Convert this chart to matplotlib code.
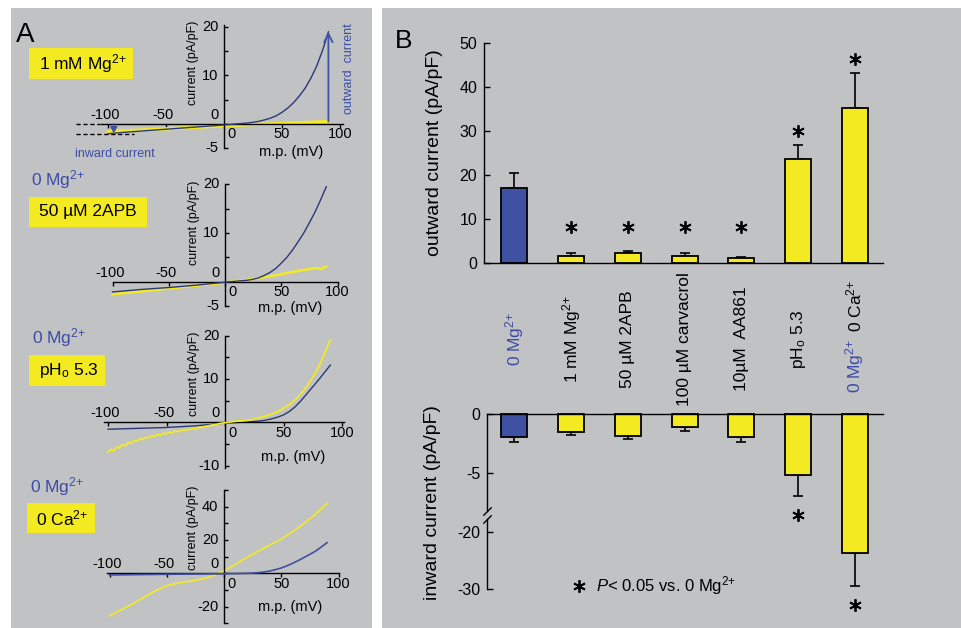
import numpy as np
import matplotlib
matplotlib.use("Agg")
import matplotlib.pyplot as plt
from matplotlib.patches import Rectangle
from matplotlib.lines import Line2D
from matplotlib import transforms

plt.rcParams["font.family"] = ["Liberation Sans", "DejaVu Sans"]
plt.rcParams["mathtext.fontset"] = "custom"
plt.rcParams["mathtext.rm"] = "Liberation Sans"
plt.rcParams["mathtext.it"] = "Liberation Sans:italic"
plt.rcParams["mathtext.default"] = "regular"
plt.rcParams["axes.linewidth"] = 1.0

# ---------------------------------------------------------------- data
# Panel A: I-V relations, membrane potential (mV) vs current density (pA/pF)
# 1 mM Mg2+ (yellow) against 0 Mg2+ control (blue)
mv_mg_ctrl = [-100, -95, -80, -60, -40, -20, 0, 10, 20, 25, 30, 35, 40, 45, 50,
              55, 60, 65, 70, 75, 80, 85, 90]
cur_mg_ctrl = [-2.0, -1.9, -1.6, -1.25, -0.9, -0.55, -0.2, 0.0, 0.2, 0.35, 0.55, 0.85, 1.2, 1.7, 2.4,
               3.3, 4.4, 5.8, 7.4, 9.5, 12.0, 15.2, 19.0]
mv_mg = [-100, -75, -50, -25, 0, 25, 50, 75, 90]
cur_mg = [-1.6, -1.3, -1.0, -0.7, -0.35, -0.1, 0.1, 0.35, 0.5]

# 50 uM 2APB
mv_apb_ctrl = [-100, -75, -50, -25, 0, 10, 20, 25, 30, 35, 40, 45, 50, 55, 60,
               65, 70, 75, 80, 85, 90]
cur_apb_ctrl = [-2.1, -1.6, -1.2, -0.7, -0.1, 0.1, 0.3, 0.5, 0.8, 1.3, 1.9, 2.7, 3.8, 5.0, 6.5,
                8.2, 10.0, 12.1, 14.3, 16.8, 19.5]
mv_apb = [-100, -75, -50, -25, 0, 20, 40, 60, 70, 80, 85, 90]
cur_apb = [-2.6, -2.0, -1.4, -0.8, -0.2, 0.4, 1.1, 2.0, 2.4, 2.8, 2.6, 3.1]

# pHo 5.3
mv_ph_ctrl = [-100, -75, -50, -25, 0, 20, 30, 35, 40, 45, 50, 55, 60, 65, 70,
              75, 80, 85, 90]
cur_ph_ctrl = [-1.6, -1.4, -1.2, -0.8, -0.2, 0.1, 0.3, 0.5, 0.8, 1.2, 1.7, 2.5, 3.6, 5.0, 6.6,
               8.2, 9.8, 11.5, 13.2]
mv_ph = [-100, -97.5, -95, -92.5, -90, -87.5, -85, -82.5, -80, -77.5,
         -75, -72.5, -70, -67.5, -65, -62.5, -60, -57.5, -55, -52.5,
         -50, -47.5, -45, -42.5, -40, -37.5, -35, -32.5, -30, -27.5,
         -25, -22.5, -20, -17.5, -15, -12.5, -10, -7.5, -5, -2.5,
         0, 5, 10, 15, 20, 25, 30, 35, 40, 45,
         50, 55, 60, 65, 70, 75, 80, 85, 90]
cur_ph = [-6.9, -6.3, -6.6, -5.7, -5.9, -5.2, -5.4, -4.6, -4.9, -4.2,
          -4.4, -3.8, -4.0, -3.4, -3.6, -3.1, -3.3, -2.8, -3.0, -2.5,
          -2.7, -2.3, -2.4, -2.0, -2.2, -1.8, -1.9, -1.6, -1.7, -1.4,
          -1.5, -1.2, -1.2, -1.0, -0.9, -0.7, -0.6, -0.5, -0.3, -0.2,
          -0.1, 0.1, 0.25, 0.35, 0.5, 0.75, 1.1, 1.45, 1.9, 2.5,
          3.2, 4.1, 5.2, 6.6, 8.3, 10.4, 12.8, 15.8, 19.0]

# 0 Ca2+
mv_ca_ctrl = [-100, -75, -50, -25, 0, 20, 25, 30, 35, 40, 45, 50, 55, 60, 65,
              70, 75, 80, 85, 90]
cur_ca_ctrl = [-1.0, -0.8, -0.6, -0.45, -0.3, 0.0, 0.15, 0.4, 0.8, 1.4, 2.2, 3.2, 4.5, 6.0, 7.7,
               9.5, 11.4, 13.3, 15.8, 18.4]
mv_ca = [-100, -90, -80, -70, -60, -50, -45, -40, -35, -30, -25, -20, -15, -10, -5,
         0, 5, 10, 20, 30, 40, 50, 60, 70, 80, 90]
cur_ca = [-25.5, -22.0, -18.5, -14.5, -10.5, -7.5, -6.6, -5.8, -5.3, -4.8, -4.3, -3.6, -2.7, -1.5, 0.0,
          1.5, 3.5, 5.5, 9.5, 13.3, 17.0, 20.5, 25.0, 30.0, 35.5, 42.0]

# Panel B: mean current density +/- s.e.m.
conditions = ["0 Mg$^{2{+}}$", "1 mM Mg$^{2{+}}$", "50 µM 2APB", "100 µM carvacrol",
              "10µM  AA861", "pH$_{o}$ 5.3", "0 Ca$^{2{+}}$"]
outward = [17.1, 1.75, 2.3, 1.75, 1.3, 23.6, 35.2]
outward_err = [3.4, 0.55, 0.6, 0.6, 0.1, 3.3, 8.1]
inward = [-2.0, -1.5, -1.85, -1.15, -2.0, -5.2, -23.8]
inward_err = [0.35, 0.3, 0.3, 0.3, 0.35, 1.8, 5.7]
outward_sig = [False, True, True, True, True, True, True]
inward_sig = [False, False, False, False, False, True, True]

# ---------------------------------------------------------------- style
W, H = 962, 628
GRAY = "#c1c2c4"
NAVY = "#2c3879"
BLUE = "#3f51a3"
BLUE_TXT = "#3b4ca6"
YELLOW = "#f4ea22"
STAR = (6, 2, 0)
MG = "0 Mg$^{2{+}}$"

fig = plt.figure(figsize=(W / 100, H / 100), dpi=100)
fig.patch.set_facecolor("white")


def fx(px):
    return px / W


def fy(py):
    return 1 - py / H


# panel backgrounds
fig.add_artist(Rectangle((fx(11), 0), fx(372) - fx(11), fy(8), transform=fig.transFigure,
                         facecolor=GRAY, edgecolor="none", zorder=-10))
fig.add_artist(Rectangle((fx(382), 0), 1 - fx(382), fy(8), transform=fig.transFigure,
                         facecolor=GRAY, edgecolor="none", zorder=-10))

fig.text(fx(16), fy(42), "A", fontsize=20, va="baseline", ha="left")
fig.text(fx(395), fy(48), "B", fontsize=19, va="baseline", ha="left")


# ---------------------------------------------------------------- panel A
def iv_axes(ox, oy, sx, sy, ylo, yhi, xbounds, ybounds, yticks, ylabels, xlab_y):
    xlo, xhi = -135, 112
    left = ox + xlo * sx
    bottom = oy - ylo * sy
    ax = fig.add_axes([fx(left), fy(bottom), (xhi - xlo) * sx / W, (yhi - ylo) * sy / H])
    ax.set_xlim(xlo, xhi)
    ax.set_ylim(ylo, yhi)
    ax.patch.set_visible(False)
    for s in ("top", "right"):
        ax.spines[s].set_visible(False)
    ax.spines["left"].set_position(("data", 0))
    ax.spines["bottom"].set_position(("data", 0))
    ax.spines["bottom"].set_bounds(*xbounds)
    ax.spines["left"].set_bounds(*ybounds)
    ax.set_xticks([-100, -50, 0, 50, 100])
    ax.set_yticks(yticks)
    ax.set_xticklabels([])
    ax.set_yticklabels([])
    ax.tick_params(axis="x", direction="out", length=3, width=1)
    ax.tick_params(axis="y", direction="in", length=3, width=1)
    for v in (-100, -50):
        ax.annotate(str(v), (v, 0), xytext=(-2, 1.5), textcoords="offset points",
                    ha="center", va="bottom", fontsize=10.5)
    ax.annotate("0", (0, 0), xytext=(2.5, -2.5), textcoords="offset points",
                ha="left", va="top", fontsize=10.5)
    for v in (50, 100):
        ax.annotate(str(v), (v, 0), xytext=(0, -2.5), textcoords="offset points",
                    ha="center", va="top", fontsize=10.5)
    for v in ylabels:
        if v == 0:
            ax.annotate("0", (0, 0), xytext=(-4, 1.5), textcoords="offset points",
                        ha="right", va="bottom", fontsize=10.5)
        else:
            ax.annotate(str(v), (0, v), xytext=(-4, 0), textcoords="offset points",
                        ha="right", va="center", fontsize=10.5)
    ax.annotate("current (pA/pF)", (0, ybounds[1]), xytext=(-22, 3), textcoords="offset points",
                rotation=90, ha="center", va="top", fontsize=9)
    ax.text(58, xlab_y, "m.p. (mV)", ha="center", va="center", fontsize=10.5)
    return ax


def label_box(x0, y0, w, h, text, tx):
    fig.add_artist(Rectangle((fx(x0), fy(y0 + h)), w / W, h / H, transform=fig.transFigure,
                             facecolor=YELLOW, edgecolor="none", zorder=1))
    fig.text(fx(tx), fy(y0 + h / 2), text, fontsize=12.5, ha="left", va="center", zorder=2)


# 1 mM Mg2+
ax1 = iv_axes(224, 124, 1.16, 4.85, -6, 21, (-106, 103), (-5, 20.4),
              [-5, 0, 5, 10, 15, 20], [20, 10, 0, -5], -5.7)
ax1.plot(mv_mg, cur_mg, color=YELLOW, lw=2.4, solid_capstyle="round", zorder=2)
ax1.plot(mv_mg_ctrl, cur_mg_ctrl, color=NAVY, lw=1.0, zorder=3)
ax1.plot([-128, -107], [0, 0], ls=(0, (3, 2)), color="black", lw=1.0, clip_on=False)
ax1.plot([-128, -78], [cur_mg_ctrl[0], cur_mg_ctrl[0]], ls=(0, (3, 2)), color="black", lw=1.0,
         clip_on=False)
ax1.annotate("", xy=(mv_mg_ctrl[1], cur_mg_ctrl[1]), xytext=(mv_mg_ctrl[1], 0),
             arrowprops=dict(arrowstyle="-|>,head_length=0.35,head_width=0.2", color=BLUE,
                             lw=1.2, shrinkA=0, shrinkB=0))
ax1.annotate("", xy=(mv_mg_ctrl[-1], cur_mg_ctrl[-1]), xytext=(mv_mg_ctrl[-1], cur_mg[-1]),
             arrowprops=dict(arrowstyle="->,head_length=0.6,head_width=0.3", color=BLUE,
                             lw=1.3, shrinkA=0, shrinkB=0))
fig.text(fx(349), fy(69), "outward  current", rotation=90, ha="center", va="center",
         fontsize=9, color=BLUE_TXT)
fig.text(fx(75), fy(157), "inward current", ha="left", va="baseline", fontsize=9, color=BLUE_TXT)
label_box(29, 48, 104, 31, "1 mM Mg$^{2{+}}$", 39)

# 50 uM 2APB
ax2 = iv_axes(225, 281.7, 1.125, 4.87, -6, 21, (-100, 100), (-5, 20),
              [-5, 0, 5, 10, 15, 20], [20, 10, 0, -5], -5.4)
ax2.plot(mv_apb, cur_apb, color=YELLOW, lw=1.8, zorder=2)
ax2.plot(mv_apb_ctrl, cur_apb_ctrl, color=NAVY, lw=1.0, zorder=3)
fig.text(fx(31), fy(185), MG, fontsize=12.5, color=BLUE_TXT, va="baseline")
label_box(29, 197, 118, 30, "50 µM 2APB", 39)

# pHo 5.3
ax3 = iv_axes(225, 422.3, 1.17, 4.33, -11, 21, (-103, 102), (-10.5, 20),
              [-10, -5, 0, 5, 10, 15, 20], [20, 10, 0, -10], -7.9)
ax3.plot(mv_ph_ctrl, cur_ph_ctrl, color=NAVY, lw=1.0, zorder=2)
ax3.plot(mv_ph, cur_ph, color=YELLOW, lw=1.3, zorder=3)
fig.text(fx(32), fy(343), MG, fontsize=12.5, color=BLUE_TXT, va="baseline")
label_box(29, 355, 76, 31, "pH$_{o}$ 5.3", 39)

# 0 Ca2+
ax4 = iv_axes(224, 573.3, 1.145, 1.667, -31, 51, (-102, 100), (-30, 50),
              [-30, -20, -10, 0, 10, 20, 30, 40, 50], [40, 20, 0, -20], -20)
ax4.plot(mv_ca_ctrl, cur_ca_ctrl, color=BLUE, lw=1.2, zorder=3)
ax4.plot(mv_ca, cur_ca, color=YELLOW, lw=1.2, zorder=2)
fig.text(fx(30), fy(492), MG, fontsize=12.5, color=BLUE_TXT, va="baseline")
label_box(27, 503, 68, 30, "0 Ca$^{2{+}}$", 36)

# ---------------------------------------------------------------- panel B
xpos = np.arange(len(conditions))
bar_colors = [BLUE] + [YELLOW] * (len(conditions) - 1)

axU = fig.add_axes([fx(484.3), fy(263.3), (883.3 - 484.3) / W, (263.3 - 43.3) / H])
axU.set_xlim(-0.53, 6.5)
axU.set_ylim(0, 50)
axU.patch.set_visible(False)
axU.errorbar(xpos, outward, yerr=[np.zeros(len(xpos)), outward_err], fmt="none",
             ecolor="black", elinewidth=1.2, capsize=3.3, capthick=1.2, zorder=1)
axU.bar(xpos, outward, width=0.46, color=bar_colors, edgecolor="black", linewidth=1.3, zorder=2)
for s in ("top", "right"):
    axU.spines[s].set_visible(False)
axU.spines["left"].set_bounds(0, 50)
axU.set_xticks([])
axU.set_yticks([0, 10, 20, 30, 40, 50])
axU.tick_params(axis="y", direction="in", length=4, width=1, labelsize=11.5, pad=5)
up_off = transforms.offset_copy(axU.transData, fig=fig, x=0, y=10, units="points")
for xi, v, e, sig in zip(xpos, outward, outward_err, outward_sig):
    if sig:
        axU.plot([xi], [max(v + e, 5)], marker=STAR, ms=9, mew=1.3, color="black",
                 transform=up_off, clip_on=False)
fig.text(fx(435), fy(153), "outward current (pA/pF)", rotation=90, ha="center", va="center",
         fontsize=14)

# category labels between the two axes
lab_tr = transforms.blended_transform_factory(axU.transData, fig.transFigure)
for xi, name in zip(xpos[:-1], conditions[:-1]):
    axU.text(xi, fy(339), name, transform=lab_tr, rotation=90, ha="center", va="center",
             fontsize=12.5, color=BLUE_TXT if xi == 0 else "black")
mg_txt = axU.text(xpos[-1], fy(393), conditions[0], transform=lab_tr, rotation=90,
                  ha="center", va="bottom", fontsize=12.5, color=BLUE_TXT)
axU.annotate(conditions[-1], xy=(0.5, 1), xycoords=mg_txt, xytext=(0, 5),
             textcoords="offset points", rotation=90, ha="center", va="bottom", fontsize=12.5)

# inward current axis with a broken scale
BRK_HI, BRK_LO, RATIO = -8.65, -17.17, 0.4885


def fwd(y):
    y = np.asarray(y, dtype=float)
    return np.where(y >= BRK_HI, y,
                    np.where(y <= BRK_LO, BRK_HI + (y - BRK_LO) * RATIO, BRK_HI))


def inv(z):
    z = np.asarray(z, dtype=float)
    return np.where(z >= BRK_HI, z, BRK_LO + (z - BRK_HI) / RATIO)


axL = fig.add_axes([fx(487.3), fy(589), (883.3 - 487.3) / W, (589 - 414) / H])
axL.set_yscale("function", functions=(fwd, inv))
axL.set_xlim(-0.476, 6.5)
axL.set_ylim(-30, 0)
axL.patch.set_visible(False)
axL.errorbar(xpos, inward, yerr=[inward_err, np.zeros(len(xpos))], fmt="none",
             ecolor="black", elinewidth=1.2, capsize=3.3, capthick=1.2, zorder=1,
             clip_on=False)
axL.bar(xpos, inward, width=0.46, color=bar_colors, edgecolor="black", linewidth=1.3, zorder=2,
        clip_on=False)
for s in ("left", "bottom", "right"):
    axL.spines[s].set_visible(False)
axL.set_xticks([])
axL.set_yticks([0, -5, -20, -30])
axL.set_yticklabels(["0", "-5", "-20", "-30"])
axL.yaxis.set_minor_locator(matplotlib.ticker.NullLocator())
axL.tick_params(axis="y", direction="in", length=4, width=1, labelsize=11.5, pad=5)
spine_tr = transforms.blended_transform_factory(axL.transAxes, axL.transData)
axL.plot([0, 0], [0, -8.3], color="black", lw=1.0, transform=spine_tr, clip_on=False)
axL.plot([0, 0], [-17.8, -30], color="black", lw=1.0, transform=spine_tr, clip_on=False)
axL.plot([0, 0], [-8.3, -17.8], ls="none", marker=[(-1, -1), (1, 1)], ms=6, mew=1.0,
         color="black", transform=spine_tr, clip_on=False)
dn_off = transforms.offset_copy(axL.transData, fig=fig, x=0, y=-13.5, units="points")
for xi, v, e, sig in zip(xpos, inward, inward_err, inward_sig):
    if sig:
        axL.plot([xi], [v - e], marker=STAR, ms=9, mew=1.3, color="black",
                 transform=dn_off, clip_on=False)
fig.text(fx(433), fy(503), "inward current (pA/pF)", rotation=90, ha="center", va="center",
         fontsize=14)

fig.add_artist(Line2D([fx(579)], [fy(586)], marker=STAR, ms=9, mew=1.3, color="black",
                      transform=fig.transFigure))
fig.text(fx(596), fy(586), "$\\mathit{P}$< 0.05 vs. 0 Mg$^{2{+}}$", ha="left", va="center",
         fontsize=12)

fig.savefig("out.png", dpi=100, facecolor=fig.get_facecolor())
